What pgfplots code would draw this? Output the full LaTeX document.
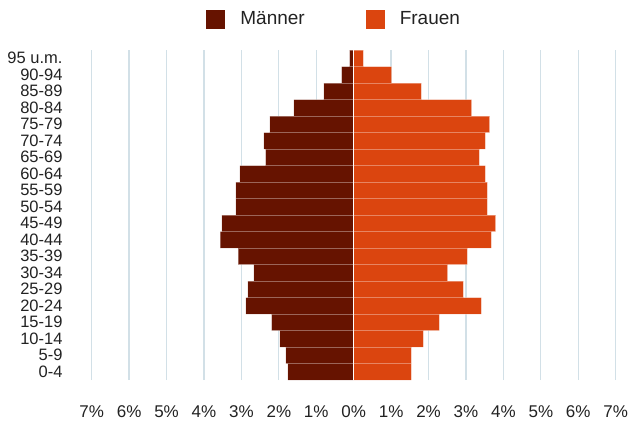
\documentclass[border=0pt]{standalone}
\usepackage{fontspec}
\setmainfont{Liberation Sans}
\usepackage{pgfplots}
\pgfplotsset{compat=1.18}
\definecolor{male}{HTML}{661300}
\definecolor{female}{HTML}{DB450F}
\definecolor{gridc}{HTML}{D2E0E7}
\definecolor{txt}{HTML}{222222}
\begin{document}
\begin{tikzpicture}
\useasboundingbox (0,0) rectangle (628bp,-421bp);
\begin{axis}[
  at={(91.7bp,-380bp)}, anchor=south west,
  scale only axis, width=524bp, height=330bp,
  xmin=-7, xmax=7, ymin=-0.5, ymax=19.5,
  xbar, bar shift=0pt, bar width=1,
  axis line style={draw=none},
  major tick length=0pt,
  xtick={-7,...,7},
  xticklabels={7\%,6\%,5\%,4\%,3\%,2\%,1\%,0\%,1\%,2\%,3\%,4\%,5\%,6\%,7\%},
  ytick={0,...,19},
  yticklabels={0-4,5-9,10-14,15-19,20-24,25-29,30-34,35-39,40-44,45-49,50-54,55-59,60-64,65-69,70-74,75-79,80-84,85-89,90-94,95 u.m.},
  /pgf/number format/assume math mode=true,
  xmajorgrids, ymajorgrids=false,
  major grid style={gridc, line width=1.3bp},
  xticklabel style={font=\fontsize{17bp}{19bp}\selectfont, text=txt, yshift=-22bp},
  yticklabel style={font=\fontsize{16.5bp}{16.5bp}\selectfont, text=txt, xshift=-29bp, anchor=east, inner sep=0pt},
  legend columns=2,
  legend style={draw=none, fill=none, at={(axis description cs:0.5,1)}, anchor=center, xshift=-13bp, yshift=31bp,
    font=\fontsize{19bp}{21bp}\selectfont, text=txt,
    /tikz/every even column/.append style={column sep=46bp},
    nodes={inner xsep=15bp}},
  legend image code/.code={\fill[#1,draw=none] (0bp,-9.5bp) rectangle (19bp,9.5bp);},
]
\addplot[fill=male, draw=white, draw opacity=0.35, line width=1bp] coordinates {
(-1.76,0) (-1.81,1) (-1.97,2) (-2.19,3) (-2.88,4) (-2.83,5) (-2.67,6) (-3.09,7) (-3.57,8) (-3.52,9)
(-3.15,10) (-3.15,11) (-3.04,12) (-2.35,13) (-2.40,14) (-2.24,15) (-1.60,16) (-0.80,17) (-0.32,18) (-0.11,19)};
\addlegendentry{Männer}
\addplot[fill=female, draw=white, draw opacity=0.35, line width=1bp] coordinates {
(1.54,0) (1.54,1) (1.86,2) (2.29,3) (3.41,4) (2.93,5) (2.51,6) (3.04,7) (3.68,8) (3.79,9)
(3.57,10) (3.57,11) (3.52,12) (3.36,13) (3.52,14) (3.63,15) (3.15,16) (1.81,17) (1.01,18) (0.26,19)};
\addlegendentry{Frauen}
\draw[white, line width=1.3bp] (axis cs:0,-0.5) -- (axis cs:0,19.5);
\end{axis}
\end{tikzpicture}
\end{document}
